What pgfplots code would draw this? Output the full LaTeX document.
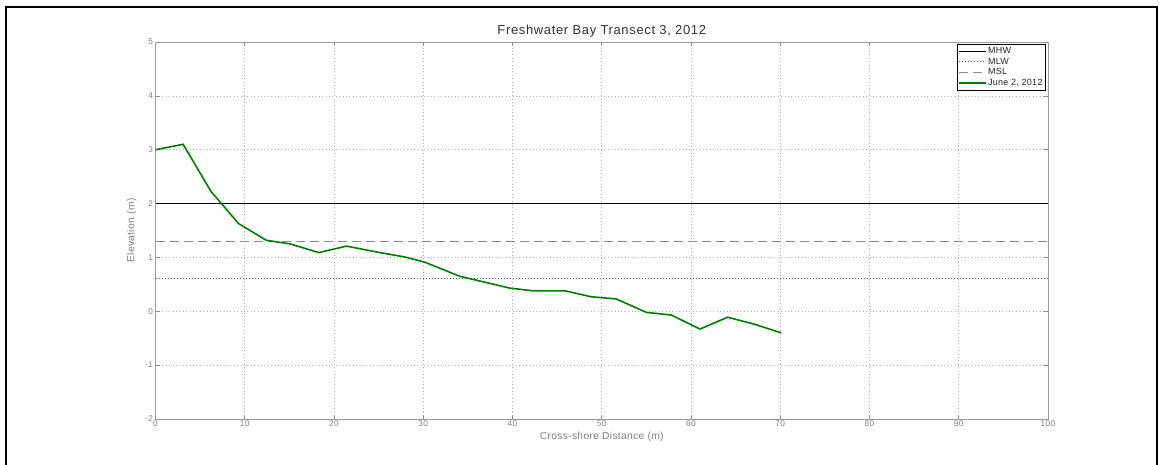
\documentclass[border=0pt]{standalone}
\usepackage{pgfplots}
\pgfplotsset{compat=1.18}
\usepackage{fontspec}
\setmainfont{Liberation Sans}
\newfontfamily\tickfont[LetterSpace=5]{Liberation Sans}
\newfontfamily\labfont[LetterSpace=3]{Liberation Sans}
\newfontfamily\titfont[LetterSpace=5]{Liberation Sans}
\begin{document}
\begin{tikzpicture}[x=1pt,y=1pt]
\path[use as bounding box] (0,0) rectangle (1159,465);
\draw[line width=2pt,black] (6,-3) -- (6,457.5) -- (1156.5,457.5) -- (1156.5,-3);
\begin{axis}[
  at={(155.5pt,46pt)}, anchor=south west,
  scale only axis, width=892.5pt, height=377pt,
  xmin=0, xmax=100, ymin=-2, ymax=5,
  xtick={0,10,...,100}, ytick={-2,-1,...,5},
  grid=major,
  major grid style={dash pattern=on 0.8pt off 2.6pt, black!32, line width=0.7pt},
  axis line style={black!40, line width=0.9pt},
  tick style={black!45, line width=0.7pt},
  tick align=inside, major tick length=4pt,
  xtick pos=both, ytick pos=both,
  /pgf/number format/assume math mode=true,
  tick label style={font=\tickfont\fontsize{8.3}{9}\selectfont, text=black!50},
  xticklabel style={yshift=1.5pt},
  yticklabel style={xshift=1pt},
  title={Freshwater Bay Transect 3, 2012},
  every axis title/.style={at={(axis description cs:0.5,1.029)}, anchor=center,
    font=\titfont\fontsize{13}{15}\selectfont, text=black!80},
  xlabel={Cross-shore Distance (m)},
  ylabel={Elevation (m)},
  every axis x label/.style={at={(axis description cs:0.5,-0.0477)}, anchor=center,
    font=\labfont\fontsize{10.3}{12}\selectfont, text=black!50},
  every axis y label/.style={at={(axis description cs:-0.0267,0.5)}, anchor=center, rotate=90,
    font=\labfont\fontsize{10.3}{12}\selectfont, text=black!50},
  legend cell align=left,
  legend style={at={(rel axis cs:0.997,0.996)}, anchor=north east, draw=black, line width=0.6pt,
    font=\labfont\fontsize{9}{10}\selectfont, row sep=2.9pt, inner xsep=1.5pt, inner ysep=4pt, text=black!85,
    nodes={inner xsep=1pt, inner ysep=0pt, text height=6pt, text depth=1.5pt}},
  legend image code/.code={\draw[#1] (0pt,0pt) -- (27pt,0pt);},
]
\addplot[black, line width=1pt] coordinates {(0,2) (100,2)};
\addlegendentry{MHW}
\addplot[black!60, dotted, line width=1pt] coordinates {(0,0.6) (100,0.6)};
\addlegendentry{MLW}
\addplot[black!45, dash pattern=on 9pt off 5pt, line width=1.5pt] coordinates {(0,1.3) (100,1.3)};
\addlegendentry{MSL}
\addplot[color={rgb,255:red,0;green,128;blue,0}, line width=1.6pt] coordinates {
(0,3.00) (3.1,3.10) (6.2,2.23) (9.3,1.63) (12.4,1.32) (15.1,1.25) (18.3,1.09)
(21.4,1.21) (24.8,1.10) (27.9,1.01) (30.2,0.91) (34.1,0.65) (39.7,0.43) (42.3,0.38)
(45.9,0.38) (48.8,0.27) (51.6,0.23) (55.0,-0.02) (57.8,-0.07) (61.0,-0.33)
(64.1,-0.11) (67.1,-0.24) (70.1,-0.40)};
\addlegendentry{June 2, 2012}
\end{axis}
\end{tikzpicture}
\end{document}
